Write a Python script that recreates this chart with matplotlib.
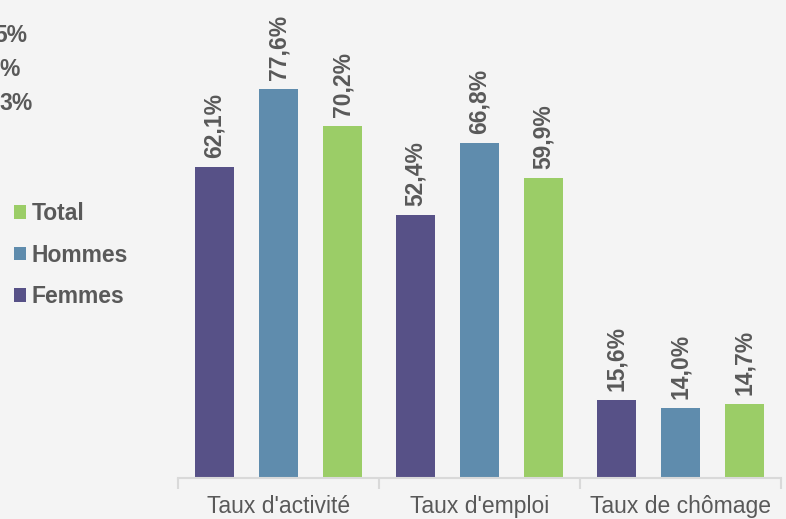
import matplotlib.pyplot as plt
import numpy as np

categories = ["Taux d'activité", "Taux d'emploi", "Taux de chômage"]
femmes = [62.1, 52.4, 15.6]
hommes = [77.6, 66.8, 14.0]
total = [70.2, 59.9, 14.7]
series_names = ["Femmes", "Hommes", "Total"]
side_labels = ["5%", "%", "3%"]

colors = ["#575187", "#5f8cad", "#9bcd67"]
bg = "#f4f4f4"
txt = "#595959"

plt.rcParams["font.family"] = ["Liberation Sans", "DejaVu Sans"]

fig = plt.figure(figsize=(7.86, 5.19), dpi=100, facecolor=bg)
ax = fig.add_axes([178 / 786, 41 / 519, 603 / 786, 478 / 519])
ax.set_facecolor(bg)

x = np.arange(len(categories))
width = 0.195
offs = [-0.32, 0.0, 0.32]
bars = []
for vals, off, col, name in zip([femmes, hommes, total], offs, colors, series_names):
    b = ax.bar(x + off, vals, width, color=col, label=name)
    bars.append(b)
    for xi, v in zip(x + off, vals):
        ax.annotate(f"{v:.1f}%".replace(".", ","), (xi, v), xytext=(0, 6.5),
                    textcoords="offset points", rotation=90, ha="center",
                    va="bottom", fontsize=16.5, fontweight="bold", color=txt)

ax.set_xlim(-0.5, 2.5)
ax.set_ylim(0, 95.4)
ax.set_yticks([])
for s in ["top", "right", "left"]:
    ax.spines[s].set_visible(False)
ax.spines["bottom"].set_color("#d9d9d9")
ax.spines["bottom"].set_linewidth(1.5)
ax.set_xticks(x)
ax.set_xticklabels(categories, fontsize=16.5, color=txt)
ax.tick_params(axis="x", which="major", length=0, pad=12)
ax.set_xticks([-0.5, 0.5, 1.5, 2.5], minor=True)
ax.tick_params(axis="x", which="minor", length=8, width=1.5, color="#d9d9d9")

leg = fig.legend([bars[2], bars[1], bars[0]], ["Total", "Hommes", "Femmes"],
                 loc="upper left", bbox_to_anchor=(-0.006, 1 - 184 / 519),
                 frameon=False, prop={"size": 16.5, "weight": "bold"},
                 handlelength=0.55, handleheight=0.55, handletextpad=0.25,
                 labelspacing=0.8, borderpad=0.3)
for t in leg.get_texts():
    t.set_color(txt)

ys = [35, 69, 103]
xr = [27, 20, 33]
for lab, yy, xx in zip(side_labels, ys, xr):
    fig.text(xx / 786, 1 - yy / 519, lab, ha="right", va="center",
             fontsize=16.5, fontweight="bold", color=txt)

fig.savefig("out.png", dpi=100, facecolor=bg)
